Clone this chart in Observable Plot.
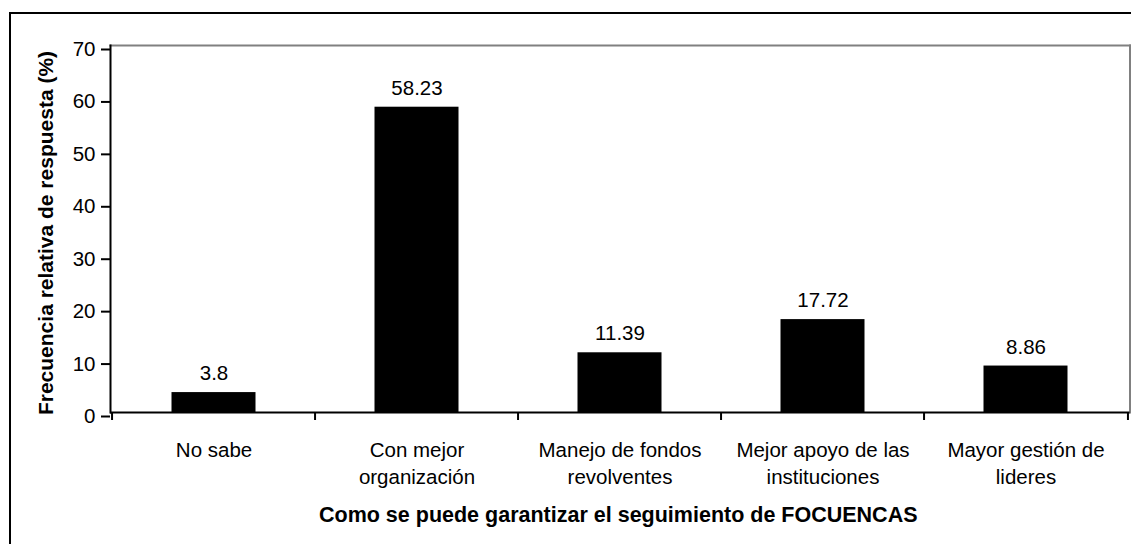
<!DOCTYPE html>
<html>
<head>
<meta charset="utf-8">
<script src="https://cdn.jsdelivr.net/npm/d3@7"></script>
<script src="https://cdn.jsdelivr.net/npm/@observablehq/plot@0.6"></script>
<style>
  html, body { margin: 0; padding: 0; background: #fff; }
  #wrap { position: relative; width: 1131px; height: 544px; overflow: hidden; }
  #border { position: absolute; left: 9px; top: 12px; width: 1200px; height: 600px;
            border-left: 2px solid #000; border-top: 2px solid #000; box-sizing: border-box; }
  #chart { position: absolute; left: 0; top: 0; }
</style>
</head>
<body>
<div id="wrap"><div id="border"></div><div id="chart"></div></div>
<script>
const categories = [
  "No sabe",
  "Con mejor\norganización",
  "Manejo de fondos\nrevolventes",
  "Mejor apoyo de las\ninstituciones",
  "Mayor gestión de\nlideres"
];
const values = [3.8, 58.23, 11.39, 17.72, 8.86];
const yTicks = [0, 10, 20, 30, 40, 50, 60, 70];
const yTitle = "Frecuencia relativa de respuesta (%)";
const xTitle = "Como se puede garantizar el seguimiento de FOCUENCAS";

const data = categories.map((c, i) => ({cat: c, value: values[i]}));

const W = 1131, H = 544;
const mL = 110, mR = 1.5, mT = 45, mB = 132;
const step = (W - mL - mR) / categories.length;
const font = "'Liberation Sans', Arial, Helvetica, sans-serif";

const chart = Plot.plot({
  width: W,
  height: H,
  marginLeft: mL,
  marginRight: mR,
  marginTop: mT,
  marginBottom: mB,
  style: {fontFamily: font, fontSize: "20px", color: "#000", background: "transparent", overflow: "visible"},
  x: {domain: categories, padding: 0, axis: null},
  y: {domain: [0, 70], axis: null},
  marks: [
    Plot.frame({anchor: "top", stroke: "#808080", strokeWidth: 2}),
    Plot.frame({anchor: "right", stroke: "#808080", strokeWidth: 2}),
    Plot.barY(data, {x: "cat", y: "value", fill: "#000", insetLeft: 59.5, insetRight: 59.5}),
    Plot.text(data, {x: "cat", y: "value", text: d => String(d.value), dy: -19, fontSize: 20.5, fill: "#000"}),
    Plot.axisY({ticks: yTicks, tickSize: 9, tickPadding: 6, strokeWidth: 2, fontSize: 20.5, dy: 4, label: null}),
    Plot.axisX({tickSize: 0, tickPadding: 25, fontSize: 20.5, lineHeight: 1.33, label: null}),
    Plot.frame({anchor: "left", stroke: "#000", strokeWidth: 2}),
    Plot.ruleY([0], {stroke: "#000", strokeWidth: 2}),
    Plot.ruleX(categories, {x: d => d, dx: -step / 2, y1: 0, y2: 0, insetBottom: -8, stroke: "#000", strokeWidth: 2}),
    Plot.ruleX(categories.slice(-1), {x: d => d, dx: step / 2, y1: 0, y2: 0, insetBottom: -8, stroke: "#000", strokeWidth: 2}),
    Plot.text([xTitle], {frameAnchor: "bottom", text: d => d, dy: 109, dx: -2, fontSize: 21.5, fontWeight: "bold", fill: "#000"}),
    Plot.text([yTitle], {frameAnchor: "left", textAnchor: "middle", text: d => d, dx: -64, dy: 4, rotate: -90, fontSize: 21, fontWeight: "bold", fill: "#000"})
  ]
});
document.getElementById("chart").appendChild(chart);
</script>
</body>
</html>
